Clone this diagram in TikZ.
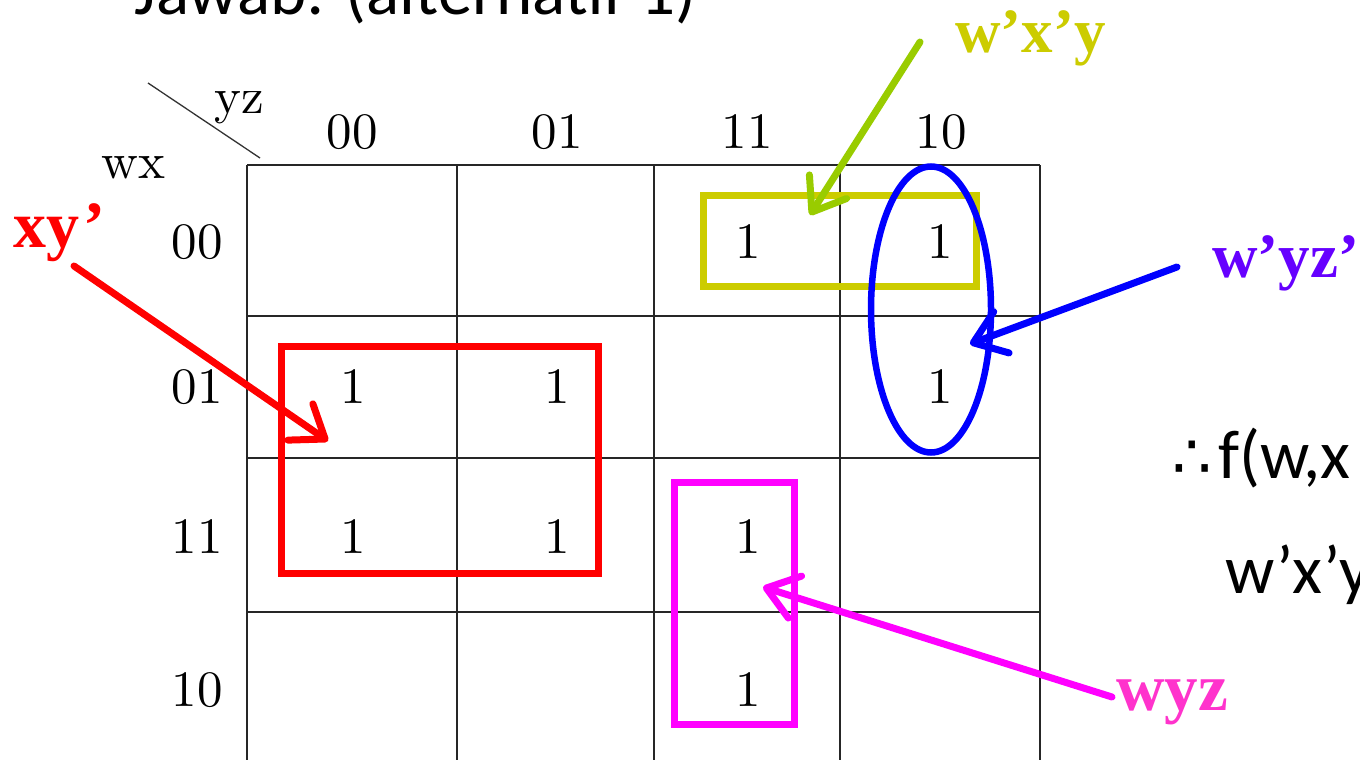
\documentclass[tikz,border=0pt]{standalone}
\usepackage{fontspec}
\usetikzlibrary{arrows.meta}
\newfontfamily\calib{Carlito}
\newfontfamily\dejav{DejaVu Sans}
\newfontfamily\lmten{lmroman10-regular.otf}
\newfontfamily\timesb[BoldFont={Liberation Serif Bold}]{Liberation Serif}
\definecolor{kred}{RGB}{255,0,0}
\definecolor{kmag}{RGB}{255,0,255}
\definecolor{kblue}{RGB}{0,0,255}
\definecolor{kgreen}{RGB}{153,204,0}
\definecolor{kyel}{RGB}{204,204,0}
\definecolor{kpurp}{RGB}{102,0,255}
\definecolor{kpink}{RGB}{255,51,204}
\tikzset{
  gridline/.style={line width=1.6pt, black!85},
  lmtext/.style={font=\lmten\fontsize{51}{60}\selectfont, anchor=base, inner sep=0pt},
  lbl/.style={font=\timesb\bfseries\fontsize{63}{70}\selectfont, anchor=base west, inner sep=0pt},
  sans/.style={font=\calib\fontsize{69}{84}\selectfont, anchor=base west, inner sep=0pt},
  grp/.style={line width=7pt},
  barb/.style={line width=7pt, line cap=round, line join=round,
    -{Straight Barb[length=30pt,width=44pt,round]}},
}
\begin{document}
\begin{tikzpicture}[x=1pt,y=-1pt]
\clip (0,0) rectangle (1360,760);
\useasboundingbox (0,0) rectangle (1360,760);
\fill[white] (0,0) rectangle (1360,760);

% title (cut off at top)
\node[sans] (title) at (134,15) {Jawab: (alternatif 1)};

% grid
\foreach \x in {247,457,654,840,1040} \draw[gridline] (\x,165) -- (\x,770);
\foreach \y in {165,316,458,612} \draw[gridline] (247,\y) -- (1040,\y);
\draw[line width=1.3pt, black!80] (148,83) -- (260,158);
\node[lmtext, anchor=base west] (yz) at (214,113) {yz};
\node[lmtext, anchor=base west] (wx) at (101,178) {wx};

% column headers
\node[lmtext] (c1) at (352,148) {00};
\node[lmtext] (c2) at (557,148) {01};
\node[lmtext] (c3) at (747,148) {11};
\node[lmtext] (c4) at (941,148) {10};
% row headers
\node[lmtext] (r1) at (197,258) {00};
\node[lmtext] (r2) at (197,403) {01};
\node[lmtext] (r3) at (197,553) {11};
\node[lmtext] (r4) at (197,706) {10};

% ones
\node[lmtext] (o13) at (748,258) {1};
\node[lmtext] (o14) at (940,258) {1};
\node[lmtext] (o21) at (353,403) {1};
\node[lmtext] (o22) at (557,403) {1};
\node[lmtext] (o24) at (940,403) {1};
\node[lmtext] (o31) at (353,553) {1};
\node[lmtext] (o32) at (557,553) {1};
\node[lmtext] (o33) at (748,553) {1};
\node[lmtext] (o43) at (748,706) {1};

% groups
\draw[grp, kyel] (703.5,195.5) rectangle (976.5,286.5);
\draw[grp, kred] (281.5,346.5) rectangle (598.5,573.5);
\draw[grp, kmag] (674.5,482.5) rectangle (794.5,724.5);
\draw[line width=6.5pt, kblue] (931,309.5) ellipse [x radius=60, y radius=143];

% labels
\node[lbl, text=kred, font=\timesb\bfseries\fontsize{66}{70}\selectfont] (lxy) at (13,247) {xy\kern4pt’};
\node[lbl, text=kyel] (lwxy) at (955,53) {w’x’y};
\node[lbl, text=kpurp] (lwyz) at (1212,277) {w’yz’};
\node[lbl, text=kpink, font=\timesb\bfseries\fontsize{67}{70}\selectfont] (lwyz2) at (1116,710) {wyz};

% arrows
\coordinate (rS) at (74,266);   \coordinate (rT) at (328,441);
\coordinate (gS) at (920,42);   \coordinate (gT) at (810,215);
\coordinate (bS) at (1177,267); \coordinate (bT) at (970,344);
\coordinate (mS) at (1112,697); \coordinate (mT) at (763,587);
\draw[barb, kred] (rS) -- (rT);
\draw[barb, kgreen] (gS) -- (gT);
\draw[barb, kblue] (bS) -- (bT);
\draw[barb, kmag] (mS) -- (mT);

% right text (cut off at right)
\node[sans] (f1) at (1172,478) {\makebox[46pt][l]{\dejav\fontsize{62}{70}\selectfont ∴}f(w,x};
\node[sans] (f2) at (1225,593) {w’x’y};
\end{tikzpicture}
\end{document}
